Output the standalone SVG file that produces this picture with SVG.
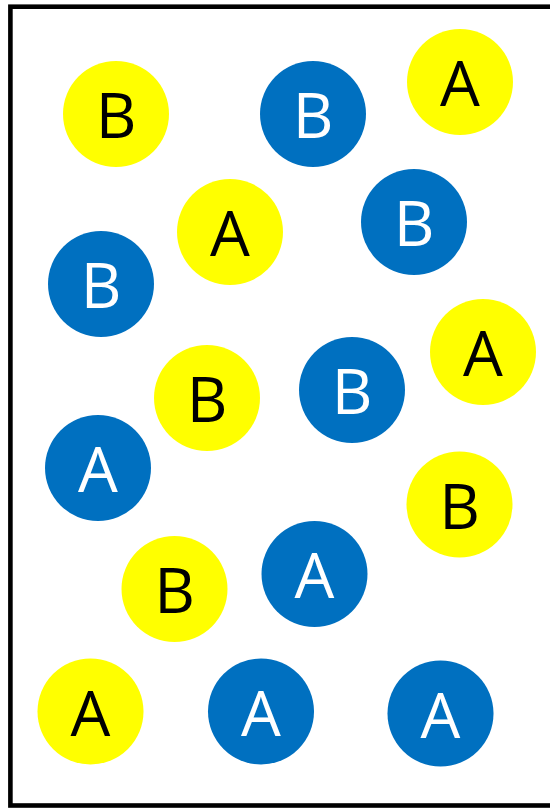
<svg xmlns="http://www.w3.org/2000/svg" width="550" height="808" viewBox="0 0 550 808">
<style>
.y{fill:#FFFF00}
.b{fill:#0070C0}
text{font-family:"Open Sans","Liberation Sans",sans-serif;font-size:63px;text-anchor:middle}
.ty{fill:#000000}
.tb{fill:#FFFFFF}
</style>
<rect x="0" y="0" width="550" height="808" fill="#FFFFFF"/>
<rect x="10.4" y="6.7" width="548" height="798.8" fill="none" stroke="#000000" stroke-width="4.6"/>
<g id="n1"><circle class="y" cx="116" cy="114" r="53"/><text class="ty" x="116" y="138">B</text></g>
<g id="n2"><circle class="b" cx="313" cy="114" r="53"/><text class="tb" x="313" y="138">B</text></g>
<g id="n3"><circle class="y" cx="460" cy="82" r="53"/><text class="ty" x="460" y="106">A</text></g>
<g id="n4"><circle class="y" cx="230" cy="232" r="53"/><text class="ty" x="230" y="256">A</text></g>
<g id="n5"><circle class="b" cx="414" cy="222" r="53"/><text class="tb" x="414" y="246">B</text></g>
<g id="n6"><circle class="b" cx="101" cy="284" r="53"/><text class="tb" x="101" y="308">B</text></g>
<g id="n7"><circle class="y" cx="483" cy="352" r="53"/><text class="ty" x="483" y="376">A</text></g>
<g id="n8"><circle class="y" cx="207" cy="398" r="53"/><text class="ty" x="207" y="422">B</text></g>
<g id="n9"><circle class="b" cx="352" cy="390" r="53"/><text class="tb" x="352" y="414">B</text></g>
<g id="n10"><circle class="b" cx="98" cy="468" r="53"/><text class="tb" x="98" y="492">A</text></g>
<g id="n11"><circle class="y" cx="459.5" cy="504.5" r="53"/><text class="ty" x="459.5" y="528.5">B</text></g>
<g id="n12"><circle class="y" cx="174.5" cy="589" r="53"/><text class="ty" x="174.5" y="613">B</text></g>
<g id="n13"><circle class="b" cx="314.5" cy="574" r="53"/><text class="tb" x="314.5" y="598">A</text></g>
<g id="n14"><circle class="y" cx="90.5" cy="711.5" r="53"/><text class="ty" x="90.5" y="735.5">A</text></g>
<g id="n15"><circle class="b" cx="261" cy="711.5" r="53"/><text class="tb" x="261" y="735.5">A</text></g>
<g id="n16"><circle class="b" cx="440.5" cy="713.5" r="53"/><text class="tb" x="440.5" y="737.5">A</text></g>
<g id="connectors"></g>
</svg>
